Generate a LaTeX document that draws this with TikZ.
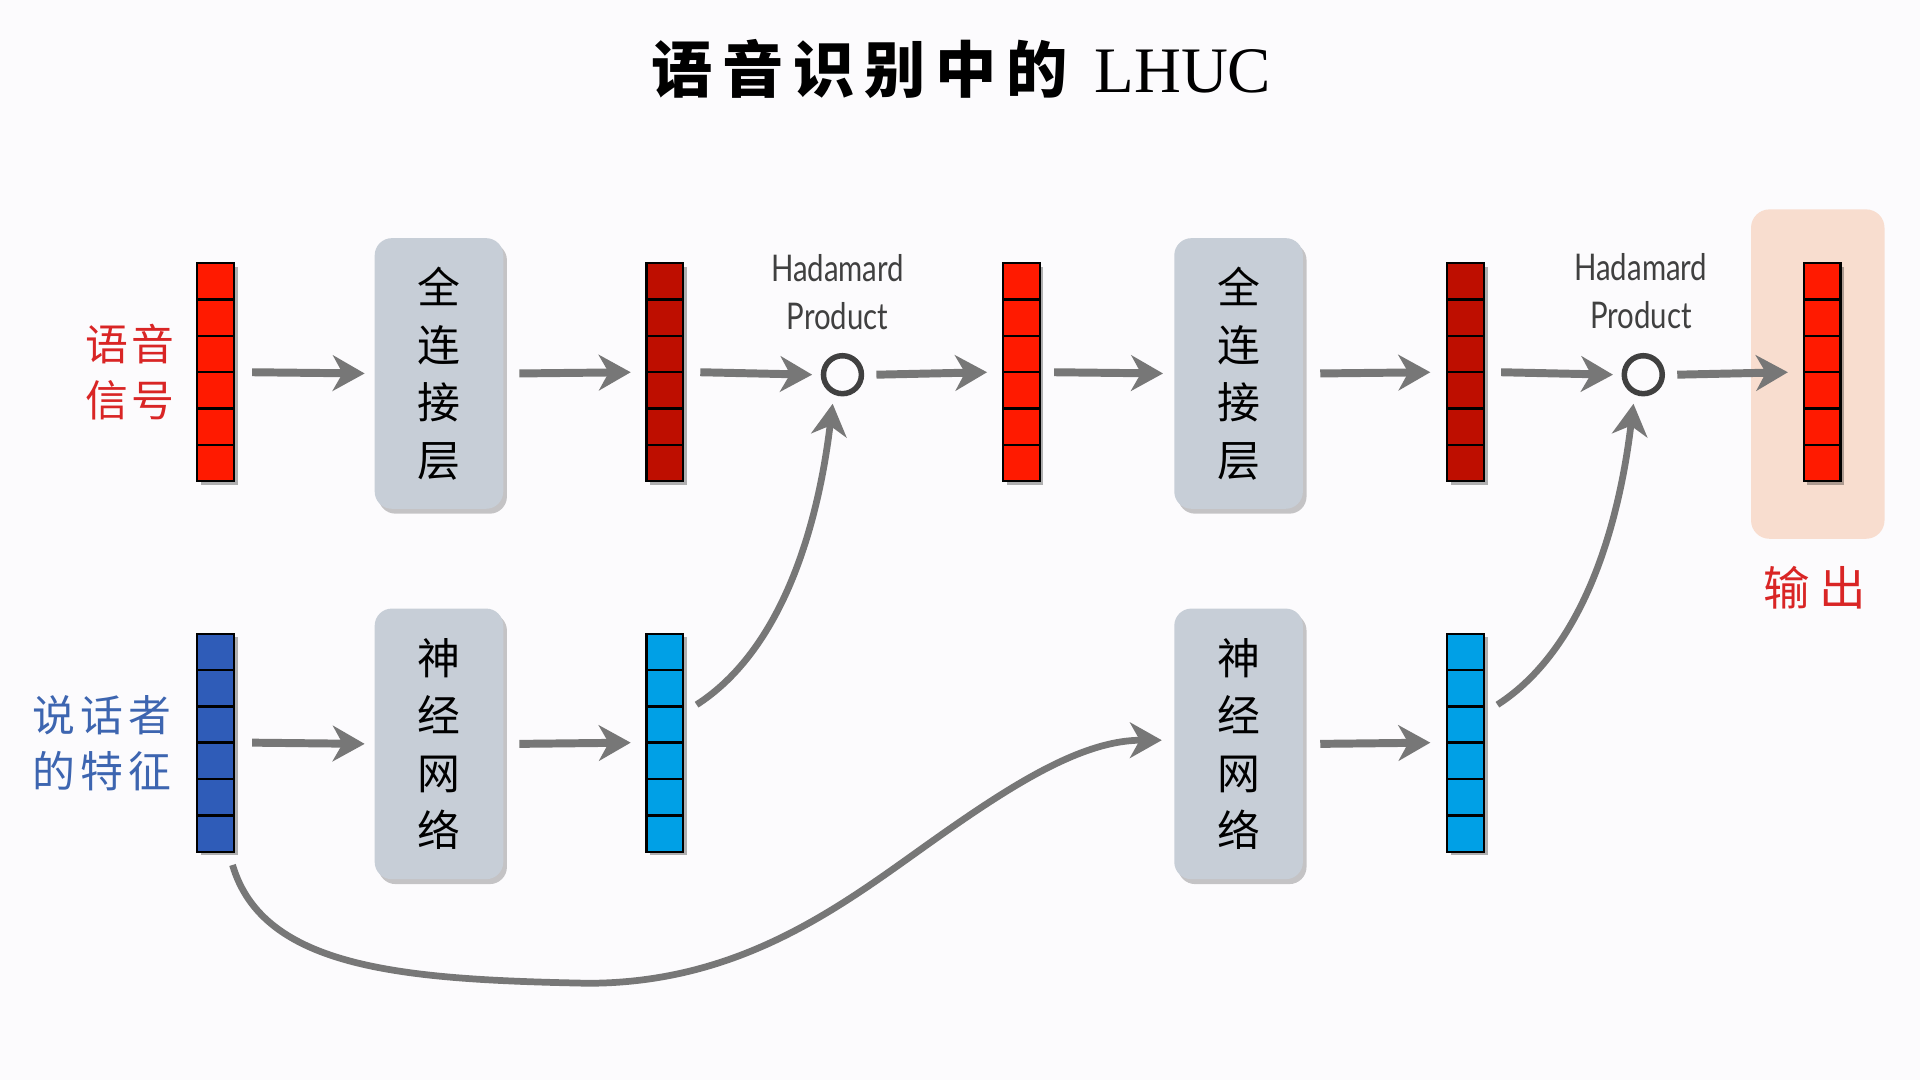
\documentclass[tikz,border=0pt]{standalone}
\usepackage{fontspec}
\usepackage{graphicx}
\usetikzlibrary{arrows.meta,calc,shadows}
\newfontfamily\cjk{Noto Sans CJK SC}
\newfontfamily\lato{Lato}
\newfontfamily\tnr{Liberation Serif}
\definecolor{bgc}{HTML}{FCFBFD}
\definecolor{redA}{HTML}{FF1A00}
\definecolor{redB}{HTML}{BE0E00}
\definecolor{blueA}{HTML}{2F5CB8}
\definecolor{cyanA}{HTML}{00A0E6}
\definecolor{boxc}{HTML}{C7CED7}
\definecolor{outc}{HTML}{F8DDCF}
\definecolor{lblred}{HTML}{D92525}
\definecolor{lblblue}{HTML}{3D65B0}
\definecolor{txtgray}{HTML}{404040}
\definecolor{arrgray}{HTML}{777777}
\begin{document}
\begin{tikzpicture}[x=1pt,y=-1pt,
  vec/.style={draw=black, line width=1.8pt, minimum width=30pt, minimum height=178pt, inner sep=0pt,
    drop shadow={shadow xshift=3pt,shadow yshift=-3pt,fill=black,opacity=0.3},
    path picture={\foreach \i in {1,...,5}{\draw[line width=2pt] ($(path picture bounding box.north west)!\i/6!(path picture bounding box.south west)$) -- ($(path picture bounding box.north east)!\i/6!(path picture bounding box.south east)$);}}},
  boxn/.style={fill=boxc, rounded corners=14pt, minimum width=105pt, minimum height=221pt, inner sep=0pt,
    drop shadow={shadow xshift=3pt,shadow yshift=-4pt,fill=black,opacity=0.22},
    align=center, font=\cjk\fontsize{35}{47}\selectfont},
  hnode/.style={circle, draw=txtgray, line width=4.5pt, fill=bgc, minimum size=31pt, inner sep=0pt},
  hptext/.style={text=txtgray, inner sep=0pt, font=\lato\fontsize{30}{39}\selectfont},
  arr/.style={draw=arrgray, line width=6.5pt, -{Stealth[length=26pt,width=29pt,inset=8pt]}},
  carr/.style={draw=arrgray, line width=5.5pt, -{Stealth[length=26pt,width=29pt,inset=8pt]}},
  lbl/.style={inner sep=0pt, align=right, font=\cjk\fontsize{35}{46}\selectfont}
]
\useasboundingbox (0,0) rectangle (1568,882);
\fill[bgc] (0,0) rectangle (1568,882);

% title
\node[inner sep=0pt] (title) at (785,56) {\cjk\bfseries\fontsize{50}{60}\selectfont 语\hspace{8pt}音\hspace{8pt}识\hspace{8pt}别\hspace{8pt}中\hspace{8pt}的\hspace{22pt}{\tnr\mdseries\fontsize{53}{60}\selectfont LHUC}};

% output background
\node[fill=outc, rounded corners=15pt, minimum width=109pt, minimum height=269pt, inner sep=0pt] (outbg) at (1484.5,305.5) {};

% top row
\node[vec, fill=redA] (v1) at (176,304) {};
\node[boxn] (b1) at (358.5,305) {全\\连\\接\\层};
\node[vec, fill=redB] (v2) at (543,304) {};
\node[hnode] (h1) at (688,306) {};
\node[vec, fill=redA] (v3) at (834,304) {};
\node[boxn] (b2) at (1011.5,305) {全\\连\\接\\层};
\node[vec, fill=redB] (v4) at (1197,304) {};
\node[hnode] (h2) at (1342,306) {};
\node[vec, fill=redA] (v5) at (1488,304) {};

\node[hptext] (hp1) at (684,242) {\scalebox{0.8}[1]{\begin{tabular}{@{}c@{}}Hadamard\\Product\end{tabular}}};
\node[hptext] (hp2) at (1340,241) {\scalebox{0.8}[1]{\begin{tabular}{@{}c@{}}Hadamard\\Product\end{tabular}}};

% labels
\node[lbl, text=lblred, anchor=east] (lin) at (143,304) {语\hspace{3pt}音\\信\hspace{3pt}号};
\node[lbl, text=lblblue, anchor=east] (lspk) at (140,607) {说\hspace{4pt}话\hspace{4pt}者\\的\hspace{4pt}特\hspace{4pt}征};
\node[inner sep=0pt, text=lblred, font=\cjk\fontsize{38}{46}\selectfont] (lout) at (1482,480) {输\hspace{8pt}出};

% bottom row
\node[vec, fill=blueA] (u1) at (176,606.5) {};
\node[boxn] (b3) at (358.5,607.5) {神\\经\\网\\络};
\node[vec, fill=cyanA] (c1) at (543,606.5) {};
\node[boxn] (b4) at (1011.5,607.5) {神\\经\\网\\络};
\node[vec, fill=cyanA] (c2) at (1197,606.5) {};

% straight arrows top
\draw[arr] ([xshift=14pt]v1.east) -- ([xshift=-8pt]b1.west);
\draw[arr] ([xshift=13pt]b1.east) -- ([xshift=-12pt]v2.west);
\draw[arr] ([xshift=13pt]v2.east) -- ([xshift=-7pt]h1.west);
\draw[arr] ([xshift=10pt]h1.east) -- ([xshift=-12pt]v3.west);
\draw[arr] ([xshift=11pt]v3.east) -- ([xshift=-9pt]b2.west);
\draw[arr] ([xshift=14pt]b2.east) -- ([xshift=-13pt]v4.west);
\draw[arr] ([xshift=13pt]v4.east) -- ([xshift=-7pt]h2.west);
\draw[arr] ([xshift=10pt]h2.east) -- ([xshift=-12pt]v5.west);

% straight arrows bottom
\draw[arr] ([xshift=14pt]u1.east) -- ([xshift=-8pt]b3.west);
\draw[arr] ([xshift=13pt]b3.east) -- ([xshift=-12pt]c1.west);
\draw[arr] ([xshift=14pt]b4.east) -- ([xshift=-13pt]c2.west);

% curved arrows
\draw[carr] ([xshift=10pt,yshift=31pt]c1.east) .. controls +(70,-45) and +(-12,100) .. ([xshift=-8pt,yshift=-6pt]h1.south);
\draw[carr] ([xshift=10pt,yshift=31pt]c2.east) .. controls +(70,-45) and +(-12,100) .. ([xshift=-8pt,yshift=-6pt]h2.south);
\draw[carr] ([xshift=-2pt,yshift=-10pt]u1.south east) .. controls +(25,85) and +(-150,-3) .. (480,803)
   .. controls +(120,0) and +(-70,50) .. (750,695)
   .. controls +(70,-50) and +(-68,0) .. ([xshift=-10pt,yshift=3pt]b4.west);
\end{tikzpicture}
\end{document}
